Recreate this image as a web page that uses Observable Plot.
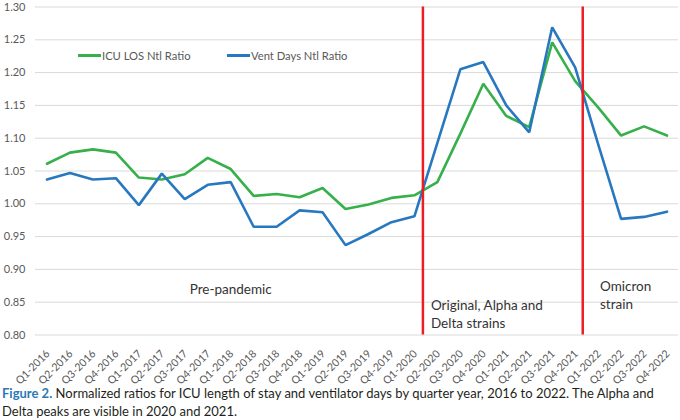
<!DOCTYPE html>
<html>
<head>
<meta charset="utf-8">
<script src="https://cdn.jsdelivr.net/npm/d3@7"></script>
<script src="https://cdn.jsdelivr.net/npm/@observablehq/plot@0.6"></script>
<style>
  body { margin: 0; background: #fff; font-family: Lato, "Open Sans", sans-serif; }
  #wrap { position: relative; width: 680px; }
  .legend { position: absolute; top: 49px; font-size: 11.2px; color: #595959; display: flex; align-items: center; }
  .legend .sw { display: inline-block; width: 23px; height: 2.6px; margin-right: 1px; }
  #caption { font-size: 13px; line-height: 18px; color: #231f20; margin: 2px 0 0 2px; width: 678px; }
  #caption div { white-space: nowrap; }
  #caption b { color: #2a7ab8; }
</style>
</head>
<body>
<div id="wrap"></div>
<div id="caption">
  <div><b>Figure 2.</b> <span>Normalized ratios for ICU length of stay and ventilator days by quarter year, 2016 to 2022. The Alpha and</span></div>
  <div>Delta peaks are visible in 2020 and 2021.</div>
</div>
<script>
const quarters = ["Q1-2016","Q2-2016","Q3-2016","Q4-2016","Q1-2017","Q2-2017","Q3-2017","Q4-2017",
  "Q1-2018","Q2-2018","Q3-2018","Q4-2018","Q1-2019","Q2-2019","Q3-2019","Q4-2019",
  "Q1-2020","Q2-2020","Q3-2020","Q4-2020","Q1-2021","Q2-2021","Q3-2021","Q4-2021",
  "Q1-2022","Q2-2022","Q3-2022","Q4-2022"];
const icuLOS = [1.061,1.078,1.083,1.078,1.040,1.037,1.045,1.070,1.053,1.012,1.015,1.010,1.024,0.992,
  0.999,1.009,1.013,1.033,1.107,1.183,1.134,1.117,1.246,1.187,1.147,1.104,1.118,1.104];
const ventDays = [1.037,1.047,1.037,1.039,0.998,1.046,1.007,1.029,1.033,0.965,0.965,0.990,0.987,0.937,
  0.954,0.972,0.981,1.093,1.205,1.216,1.150,1.109,1.269,1.208,1.091,0.977,0.980,0.988];
const seriesNames = ["ICU LOS Ntl Ratio", "Vent Days Ntl Ratio"];
const seriesColors = ["#36b04a", "#2878c0"];
const yTicks = [0.80,0.85,0.90,0.95,1.00,1.05,1.10,1.15,1.20,1.25,1.30];
// period boundaries (in quarter-index units)
const eventPositions = [16.37, 23.33];
const periodLabels = ["Pre-pandemic", "Original, Alpha and\nDelta strains", "Omicron\nstrain"];
const periodLabelX = [8.0, 16.72, 24.08];
const periodLabelY = [0.871, 0.8335, 0.862];
const periodLabelAnchor = ["middle", "start", "start"];

const rows = [];
quarters.forEach((q, i) => {
  rows.push({i, q, s: seriesNames[0], v: icuLOS[i]});
  rows.push({i, q, s: seriesNames[1], v: ventDays[i]});
});
const periods = periodLabels.map((t, k) => ({t, x: periodLabelX[k], y: periodLabelY[k], a: periodLabelAnchor[k]}));

const chart = Plot.plot({
  width: 680,
  height: 382,
  marginLeft: 35,
  marginRight: 2,
  marginTop: 6.5,
  marginBottom: 47.5,
  style: { color: "#595959", fontFamily: "Lato, 'Open Sans', sans-serif", background: "#fff", overflow: "visible" },
  x: { type: "linear", domain: [-0.5, quarters.length - 0.5], axis: null },
  y: { domain: [0.80, 1.30], axis: null },
  marks: [
    Plot.gridY(yTicks, { stroke: "#d9d9d9", strokeOpacity: 1 }),
    Plot.axisY(yTicks, { tickSize: 0, tickPadding: 10, tickFormat: d3.format(".2f"), fontSize: 11, label: null }),
    Plot.text(quarters, { x: (d, i) => i, text: d => d, frameAnchor: "bottom", rotate: -45, textAnchor: "end",
      lineAnchor: "middle", dx: 1, dy: 17, fontSize: 10.6, fill: "#595959" }),
    Plot.line(rows, { x: "i", y: "v", z: "s", stroke: d => d.s === seriesNames[0] ? seriesColors[0] : seriesColors[1],
      strokeWidth: 2.6, strokeLinejoin: "miter" }),
    Plot.ruleX(eventPositions, { stroke: "#ee1d25", strokeWidth: 2.5 }),
    Plot.text(periods.filter(p => p.a === "middle"), { x: "x", y: "y", text: "t", textAnchor: "middle",
      fontSize: 13.5, fill: "#333333", lineHeight: 1.33 }),
    Plot.text(periods.filter(p => p.a === "start"), { x: "x", y: "y", text: "t", textAnchor: "start",
      fontSize: 13.5, fill: "#333333", lineHeight: 1.33 })
  ]
});
const wrap = document.getElementById("wrap");
wrap.appendChild(chart);

const legendX = [78, 227];
seriesNames.forEach((n, k) => {
  const el = document.createElement("div");
  el.className = "legend";
  el.style.left = legendX[k] + "px";
  el.innerHTML = `<span class="sw" style="background:${seriesColors[k]}"></span><span>${n}</span>`;
  wrap.appendChild(el);
});
</script>
</body>
</html>
